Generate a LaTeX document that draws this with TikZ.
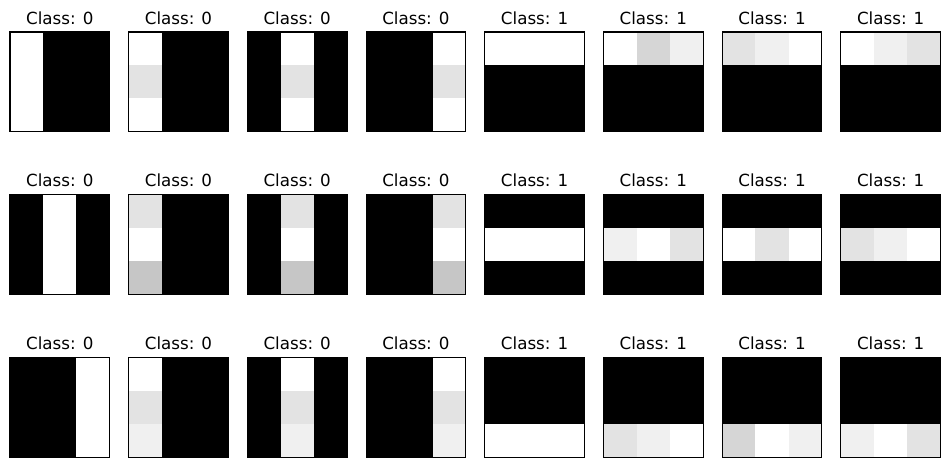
\documentclass[tikz,border=0pt]{standalone}
\usepackage{fontspec}
\setmainfont{DejaVu Sans}
\usetikzlibrary{positioning}
\definecolor{W}{gray}{1}
\definecolor{K}{gray}{0}
\definecolor{P}{RGB}{240,240,240}
\definecolor{Q}{RGB}{227,227,227}
\definecolor{R}{RGB}{214,214,214}
\definecolor{S}{RGB}{198,198,198}
\tikzstyle{panel} = [draw=black, line width=1.1pt,
minimum width=99.6pt, minimum height=99.6pt,
inner sep=0pt, outer sep=0pt]
\tikzstyle{classlabel} = [anchor=base, inner sep=0pt,
font=\fontsize{16.7}{20}\selectfont]

\begin{document}
\begin{tikzpicture}[x=1pt,y=-1pt]
        \useasboundingbox (0,0) rectangle (950,467);
        % one entry per panel, cells row by row
        \foreach \cells [count=\N from 0] in
          {{W,K,K,W,K,K,W,K,K},{W,K,K,Q,K,K,W,K,K},{K,W,K,K,Q,K,K,W,K},{K,K,W,K,K,Q,K,K,W},
           {W,W,W,K,K,K,K,K,K},{W,R,P,K,K,K,K,K,K},{Q,P,W,K,K,K,K,K,K},{W,P,Q,K,K,K,K,K,K},
           {K,W,K,K,W,K,K,W,K},{Q,K,K,W,K,K,S,K,K},{K,Q,K,K,W,K,K,S,K},{K,K,Q,K,K,W,K,K,S},
           {K,K,K,W,W,W,K,K,K},{K,K,K,P,W,Q,K,K,K},{K,K,K,W,Q,W,K,K,K},{K,K,K,Q,P,W,K,K,K},
           {K,K,W,K,K,W,K,K,W},{W,K,K,Q,K,K,P,K,K},{K,W,K,K,Q,K,K,P,K},{K,K,W,K,K,Q,K,K,P},
           {K,K,K,K,K,K,W,W,W},{K,K,K,K,K,K,Q,P,W},{K,K,K,K,K,K,R,W,P},{K,K,K,K,K,K,P,W,Q}}
          {\pgfmathtruncatemacro\Rw{floor(\N/8)}
        \pgfmathtruncatemacro\Cl{\N-8*\Rw}
        \pgfmathtruncatemacro\Lb{\Cl>3}
        \pgfmathsetmacro\X{10+118.7*\Cl}
        \pgfmathsetmacro\Y{32+162.85*\Rw}
        \foreach \G [count=\i from 0] in \cells
          {\pgfmathtruncatemacro\Ri{floor(\i/3)}
        \pgfmathtruncatemacro\Ci{\i-3*\Ri}
        \fill[\G] (\X+33.2*\Ci,\Y+33.2*\Ri) rectangle ++(33.2,33.2);}
        \node[panel] (P-\Rw-\Cl) at (\X+49.8,\Y+49.8) {};
        \node[classlabel] (T-\Rw-\Cl) at ([yshift=8pt]P-\Rw-\Cl.north) {Class: \Lb};
        }
      \end{tikzpicture}
\end{document}
